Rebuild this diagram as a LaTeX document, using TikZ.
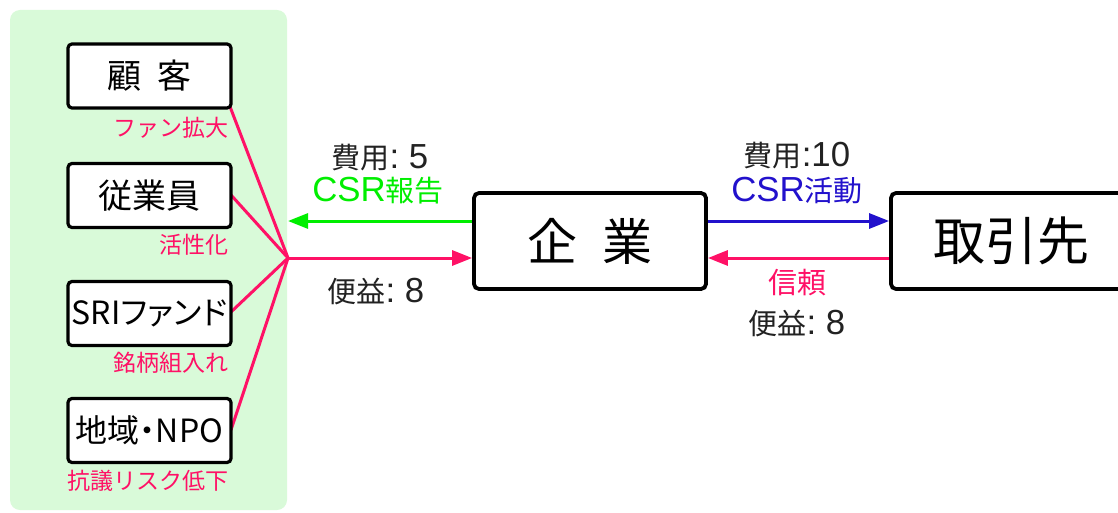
\documentclass[tikz,border=0pt]{standalone}
\usepackage{fontspec}
\setmainfont{Noto Sans CJK JP}
\newfontfamily\paltfont[RawFeature=+palt]{Noto Sans CJK JP}
\newfontfamily\lat[Scale=1.2]{Liberation Sans}
\usetikzlibrary{arrows.meta,calc}
\definecolor{panel}{HTML}{D9FAD9}
\definecolor{pinkc}{HTML}{FF1166}
\definecolor{greenc}{HTML}{00EE00}
\definecolor{bluec}{HTML}{2211CC}
\definecolor{txt}{HTML}{222222}
\tikzset{
  actor/.style={draw=black,line width=3.2pt,rounded corners=4pt,fill=white,inner sep=0pt,
    minimum width=163pt,minimum height=64pt,font=\fontsize{34}{34}\selectfont,text=black},
  big/.style={draw=black,line width=3.8pt,rounded corners=5pt,fill=white,inner sep=0pt,
    minimum width=232pt,minimum height=96pt,font=\fontsize{50}{50}\selectfont,text=black},
  gain/.style={font=\fontsize{23}{23}\selectfont,text=pinkc,anchor=east,inner sep=0pt},
  flow/.style={font=\fontsize{29}{29}\selectfont,inner sep=0pt},
  link/.style={line width=3pt,draw=pinkc},
  arr/.style={line width=3pt,-{Triangle[length=20pt,width=15pt]}},
}
\begin{document}
\begin{tikzpicture}[x=1pt,y=-1pt]
\useasboundingbox (0,0) rectangle (1118,513);
\fill[panel,rounded corners=10pt] (10,10) rectangle (287,510);
% links (behind boxes)
\coordinate (hub) at (288,258);
\draw[link] (hub) -- (229,104);
\draw[link] (hub) -- (231,195);
\draw[link] (hub) -- (231,312);
\draw[link] (hub) -- (231,430);
% left actors
\node[actor] (gk) at (149.5,76) {顧\hspace{0.45em}客};
\node[actor] (jg) at (149.5,195.5) {従業員};
\node[actor,font=\fontsize{32}{32}\selectfont\paltfont] (sri) at (149.5,313.5) {SRIファンド};
\node[actor,font=\fontsize{32}{32}\selectfont\paltfont] (npo) at (149.5,430.5) {地域・NPO};
\node[gain] at (229,128) {ファン拡大};
\node[gain] at (229,245) {活性化};
\node[gain] at (229,363) {銘柄組入れ};
\node[gain] at (229,481) {抗議リスク低下};
% main boxes
\node[big] (qy) at (590,241) {企\hspace{0.5em}業};
\node[big,minimum width=240pt,font=\fontsize{52}{52}\selectfont] (tr) at (1011,241) {取引先};
% left arrows
\coordinate (gend) at (288,221);
\draw[arr,greenc] ($(qy.west)+(0,-20)$) -- (gend);
\draw[arr,pinkc] (hub) -- ($(qy.west)+(0,17)$);
\node[flow,text=txt] at (380,158) {費用{\lat :\ 5}};
\node[flow,text=greenc] at (378,191) {{\lat CSR}報告};
\node[flow,text=txt] at (376,291) {便益{\lat :\ 8}};
% right arrows
\draw[arr,bluec] ($(qy.east)+(0,-20)$) -- ($(tr.west)+(0,-20)$);
\draw[arr,pinkc] ($(tr.west)+(0,17)$) -- ($(qy.east)+(0,17)$);
\node[flow,text=txt] at (797,156) {費用{\lat :10}};
\node[flow,text=bluec] at (797,191) {{\lat CSR}活動};
\node[flow,text=pinkc] at (797,283) {信頼};
\node[flow,text=txt] at (797,323) {便益{\lat :\ 8}};
\end{tikzpicture}
\end{document}
